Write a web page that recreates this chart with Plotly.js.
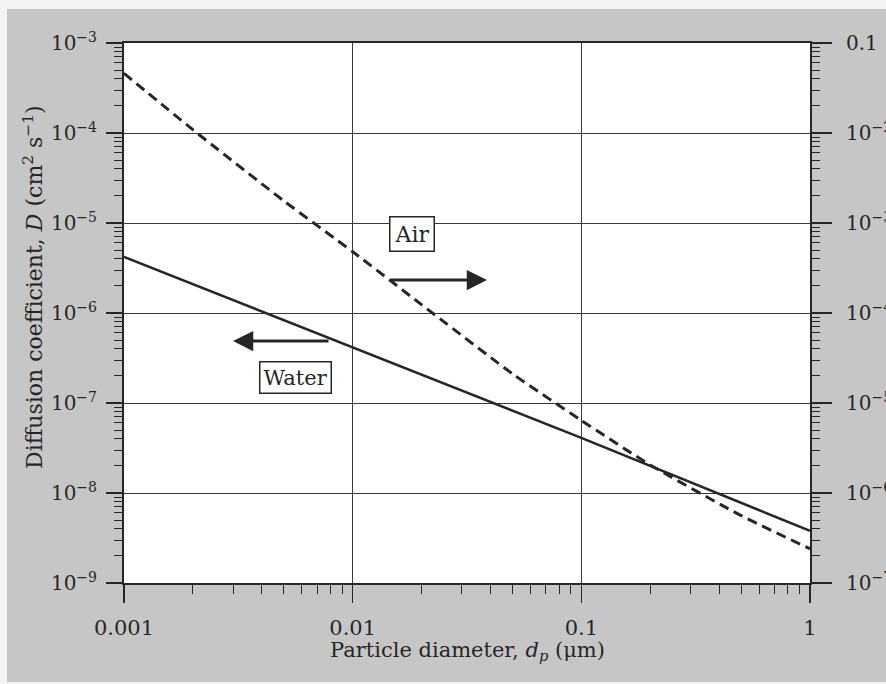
<!DOCTYPE html>
<html>
<head>
<meta charset="utf-8">
<script src="https://cdn.plot.ly/plotly-3.0.1.min.js"></script>
<style>html,body{margin:0;padding:0;background:#fff;}#chart{width:886px;height:684px;}</style>
</head>
<body>
<div id="chart"></div>
<script>
// Particle diameter (µm)
const waterDiameter = [0.001, 0.01, 0.1, 1];
// Diffusion coefficient in water (cm^2/s), left axis
const waterD = [4.2e-6, 4.15e-7, 4.1e-8, 3.8e-9];

const airDiameter = [0.001, 0.002, 0.005, 0.01, 0.02, 0.05, 0.1, 0.2, 0.5, 1];
// Diffusion coefficient in air (cm^2/s), right axis
const airD = [4.6e-2, 1.09e-2, 1.76e-3, 4.8e-4, 1.24e-4, 2.11e-5, 6.4e-6, 2.05e-6, 5.6e-7, 2.4e-7];

const xTickVals = [0.001, 0.01, 0.1, 1];
const xTickText = ['0.001', '0.01', '0.1', '1'];
const yTickVals = [1e-9, 1e-8, 1e-7, 1e-6, 1e-5, 1e-4, 1e-3];
const yTickText = ['10<sup>−9</sup>', '10<sup>−8</sup>', '10<sup>−7</sup>', '10<sup>−6</sup>', '10<sup>−5</sup>', '10<sup>−4</sup>', '10<sup>−3</sup>'];
const y2TickVals = [1e-7, 1e-6, 1e-5, 1e-4, 1e-3, 1e-2, 1e-1];
const y2TickText = ['10<sup>−7</sup>', '10<sup>−6</sup>', '10<sup>−5</sup>', '10<sup>−4</sup>', '10<sup>−3</sup>', '10<sup>−2</sup>', '0.1'];

function minorVals(lo, hi) {
  const out = [];
  for (let e = lo; e < hi; e++) {
    for (let k = 2; k <= 9; k++) out.push(k * Math.pow(10, e));
  }
  return out;
}

const FONT = 'DejaVu Serif, Liberation Serif, serif';
const INK = '#262626';

const traces = [
  {
    x: waterDiameter, y: waterD, type: 'scatter', mode: 'lines', name: 'Water',
    line: {color: INK, width: 2.6}, yaxis: 'y', showlegend: false, hoverinfo: 'skip'
  },
  {
    x: airDiameter, y: airD, type: 'scatter', mode: 'lines', name: 'Air',
    line: {color: INK, width: 3, dash: '10px,6px', shape: 'spline', smoothing: 0.5}, yaxis: 'y2', showlegend: false, hoverinfo: 'skip'
  }
];

// pixel helpers for annotation placement (plot area 124..810 x 43..583)
const PX = p => (p - 124) / 686;
const PY = p => (583 - p) / 540;

const layout = {
  width: 886, height: 684,
  margin: {l: 124, r: 76, t: 43, b: 101},
  paper_bgcolor: '#c6c6c6',
  plot_bgcolor: '#ffffff',
  font: {family: FONT, color: INK, size: 20},
  showlegend: false,
  xaxis: {
    type: 'log', range: [-3, 0],
    tickmode: 'array', tickvals: xTickVals, ticktext: xTickText,
    ticks: 'outside', ticklen: 18, tickwidth: 1.5, tickcolor: INK,
    ticklabelstandoff: 7,
    tickfont: {family: FONT, size: 21, color: INK},
    showgrid: true, gridcolor: '#3a3a3a', gridwidth: 1,
    showline: true, linecolor: INK, linewidth: 2, mirror: true,
    zeroline: false,
    minor: {tickmode: 'array', tickvals: minorVals(-3, 0), ticks: 'outside', ticklen: 9, tickwidth: 1, tickcolor: INK, showgrid: false}
  },
  yaxis: {
    type: 'log', range: [-9, -3],
    tickmode: 'array', tickvals: yTickVals, ticktext: yTickText,
    ticks: 'outside', ticklen: 16, tickwidth: 1.5, tickcolor: INK,
    ticklabelstandoff: 5,
    tickfont: {family: FONT, size: 20, color: INK},
    showgrid: true, gridcolor: '#3a3a3a', gridwidth: 1,
    showline: true, linecolor: INK, linewidth: 2,
    zeroline: false,
    minor: {tickmode: 'array', tickvals: minorVals(-9, -3), ticks: 'outside', ticklen: 8, tickwidth: 1, tickcolor: INK, showgrid: false}
  },
  yaxis2: {
    type: 'log', range: [-7, -1], overlaying: 'y', side: 'right',
    tickmode: 'array', tickvals: y2TickVals, ticktext: y2TickText,
    ticks: 'outside', ticklen: 20, tickwidth: 1.5, tickcolor: INK,
    ticklabelstandoff: 10,
    tickfont: {family: FONT, size: 20, color: INK},
    showgrid: false,
    showline: true, linecolor: INK, linewidth: 2,
    zeroline: false,
    minor: {tickmode: 'array', tickvals: minorVals(-7, -1), ticks: 'outside', ticklen: 8, tickwidth: 1, tickcolor: INK, showgrid: false}
  },
  shapes: [
    {type: 'rect', xref: 'paper', yref: 'paper', x0: PX(0), x1: PX(886), y0: PY(0), y1: PY(9), fillcolor: '#f3f3f3', line: {width: 0}, layer: 'above'},
    {type: 'rect', xref: 'paper', yref: 'paper', x0: PX(0), x1: PX(7), y0: PY(0), y1: PY(684), fillcolor: '#f3f3f3', line: {width: 0}, layer: 'above'},
    {type: 'rect', xref: 'paper', yref: 'paper', x0: PX(0), x1: PX(886), y0: PY(682), y1: PY(684), fillcolor: '#f3f3f3', line: {width: 0}, layer: 'above'}
  ],
  annotations: [
    {xref: 'paper', yref: 'paper', x: PX(33), y: PY(287), text: 'Diffusion coefficient, <i>D</i> (cm<sup>2</sup> s<sup>−1</sup>)',
     textangle: -90, showarrow: false, xanchor: 'center', yanchor: 'middle', font: {family: FONT, size: 22, color: INK}},
    {xref: 'paper', yref: 'paper', x: PX(467), y: PY(651), text: 'Particle diameter, <i>d<sub>p</sub></i> (μm)',
     showarrow: false, xanchor: 'center', yanchor: 'middle', font: {family: FONT, size: 21, color: INK}},
    {xref: 'paper', yref: 'paper', x: PX(412), y: PY(234), text: 'Air', showarrow: false,
     xanchor: 'center', yanchor: 'middle', bgcolor: '#ffffff', bordercolor: INK, borderwidth: 1.5, borderpad: 4,
     font: {family: FONT, size: 22, color: INK}},
    {xref: 'paper', yref: 'paper', x: PX(295), y: PY(377), text: 'Water', showarrow: false,
     xanchor: 'center', yanchor: 'middle', bgcolor: '#ffffff', bordercolor: INK, borderwidth: 1.5, borderpad: 3,
     font: {family: FONT, size: 21, color: INK}},
    {xref: 'paper', yref: 'paper', x: PX(487), y: PY(280), text: '', showarrow: true,
     ax: -98, ay: 0, arrowhead: 2, arrowsize: 1.35, arrowwidth: 3, arrowcolor: INK, standoff: 0},
    {xref: 'paper', yref: 'paper', x: PX(233), y: PY(341), text: '', showarrow: true,
     ax: 97, ay: 0, arrowhead: 2, arrowsize: 1.35, arrowwidth: 3, arrowcolor: INK, standoff: 0}
  ]
};

Plotly.newPlot('chart', traces, layout, {staticPlot: true, displayModeBar: false});
</script>
</body>
</html>
